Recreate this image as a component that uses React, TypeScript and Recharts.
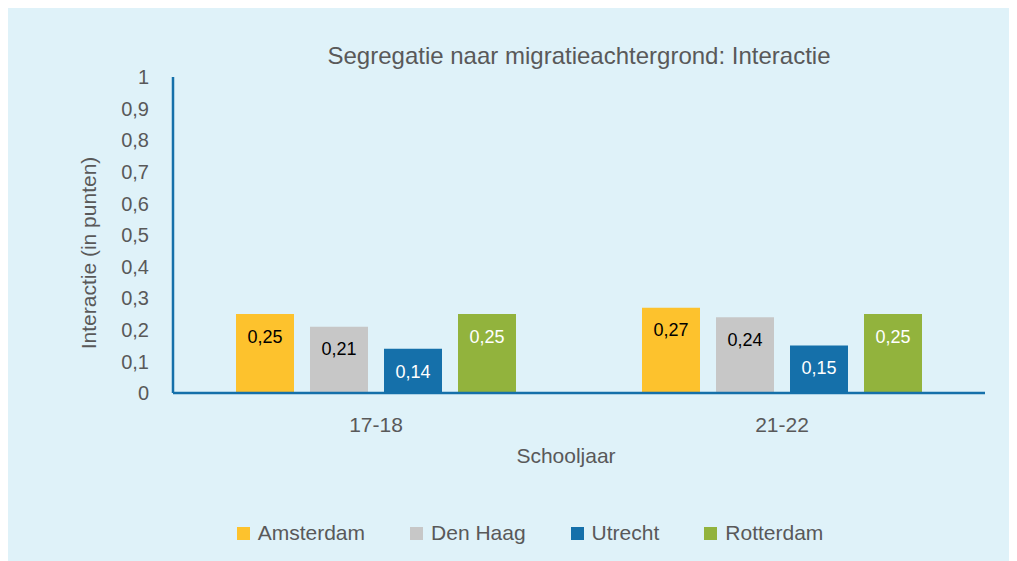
import { BarChart, Bar, XAxis, YAxis, Legend, LabelList, Label } from 'recharts';

const schooljaren = ['17-18', '21-22'];
const amsterdam = [0.25, 0.27];
const denHaag = [0.21, 0.24];
const utrecht = [0.14, 0.15];
const rotterdam = [0.25, 0.25];
const yTicks = [0, 0.1, 0.2, 0.3, 0.4, 0.5, 0.6, 0.7, 0.8, 0.9, 1];

const series = [
  { key: 'Amsterdam', values: amsterdam, color: '#fdc22d', labelColor: '#000000' },
  { key: 'Den Haag', values: denHaag, color: '#c7c7c7', labelColor: '#000000' },
  { key: 'Utrecht', values: utrecht, color: '#1570aa', labelColor: '#ffffff' },
  { key: 'Rotterdam', values: rotterdam, color: '#92b33d', labelColor: '#ffffff' },
];

const data = schooljaren.map((jaar, i) => {
  const row: any = { jaar };
  series.forEach(s => { row[s.key] = s.values[i]; });
  return row;
});

const TEXT = '#595959';
const AXIS = '#1570aa';
const FONT = '"Liberation Sans", Arial, sans-serif';

const comma = (v: any) => String(v).replace('.', ',');

// keep the legend in series order (recharts sorts it by name otherwise)
const renderLegend = () => (
  <div
    style={{
      display: 'flex',
      justifyContent: 'center',
      alignItems: 'center',
      gap: 45,
      paddingLeft: 35,
      height: 40,
      fontSize: 21,
      color: TEXT,
    }}
  >
    {series.map(s => (
      <div key={s.key} style={{ display: 'flex', alignItems: 'center' }}>
        <span style={{ width: 13, height: 13, background: s.color, marginRight: 8, display: 'inline-block' }} />
        {s.key}
      </div>
    ))}
  </div>
);

export default function App() {
  return (
    <div style={{ position: 'relative', width: 1009, height: 553, background: '#dff2f9', fontFamily: FONT }}>
      <div
        style={{
          position: 'absolute',
          top: 34,
          left: 165,
          width: 812,
          textAlign: 'center',
          fontSize: 24,
          lineHeight: '28px',
          color: TEXT,
        }}
      >
        Segregatie naar migratieachtergrond: Interactie
      </div>
      <BarChart
        width={1009}
        height={553}
        data={data}
        margin={{ top: 69, right: 32, left: 0, bottom: 8 }}
        barSize={58}
        barGap={16}
      >
        <XAxis
          dataKey="jaar"
          height={120}
          axisLine={{ stroke: AXIS, strokeWidth: 2.5 }}
          tickLine={false}
          tickSize={0}
          tickMargin={24}
          tick={{ fill: TEXT, fontSize: 21 }}
        >
          <Label value="Schooljaar" position="insideTop" offset={55} dx={-13} fill={TEXT} fontSize={21} />
        </XAxis>
        <YAxis
          width={165}
          domain={[0, 1]}
          ticks={yTicks}
          interval={0}
          axisLine={{ stroke: AXIS, strokeWidth: 2.5 }}
          tickLine={false}
          tickSize={0}
          tickMargin={24}
          tickFormatter={comma}
          tick={{ fill: TEXT, fontSize: 20 }}
        >
          <Label
            content={() => (
              <text
                x={80}
                y={245}
                transform="rotate(-90 80 245)"
                textAnchor="middle"
                dominantBaseline="central"
                fill={TEXT}
                fontSize={21}
              >
                Interactie (in punten)
              </text>
            )}
          />
        </YAxis>
        <Legend verticalAlign="bottom" content={renderLegend} wrapperStyle={{ left: 0, width: 1009 }} />
        {series.map(s => (
          <Bar key={s.key} dataKey={s.key} name={s.key} fill={s.color} isAnimationActive={false}>
            <LabelList
              dataKey={s.key}
              position="insideTop"
              offset={16}
              formatter={comma}
              fill={s.labelColor}
              fontSize={18}
            />
          </Bar>
        ))}
      </BarChart>
    </div>
  );
}
